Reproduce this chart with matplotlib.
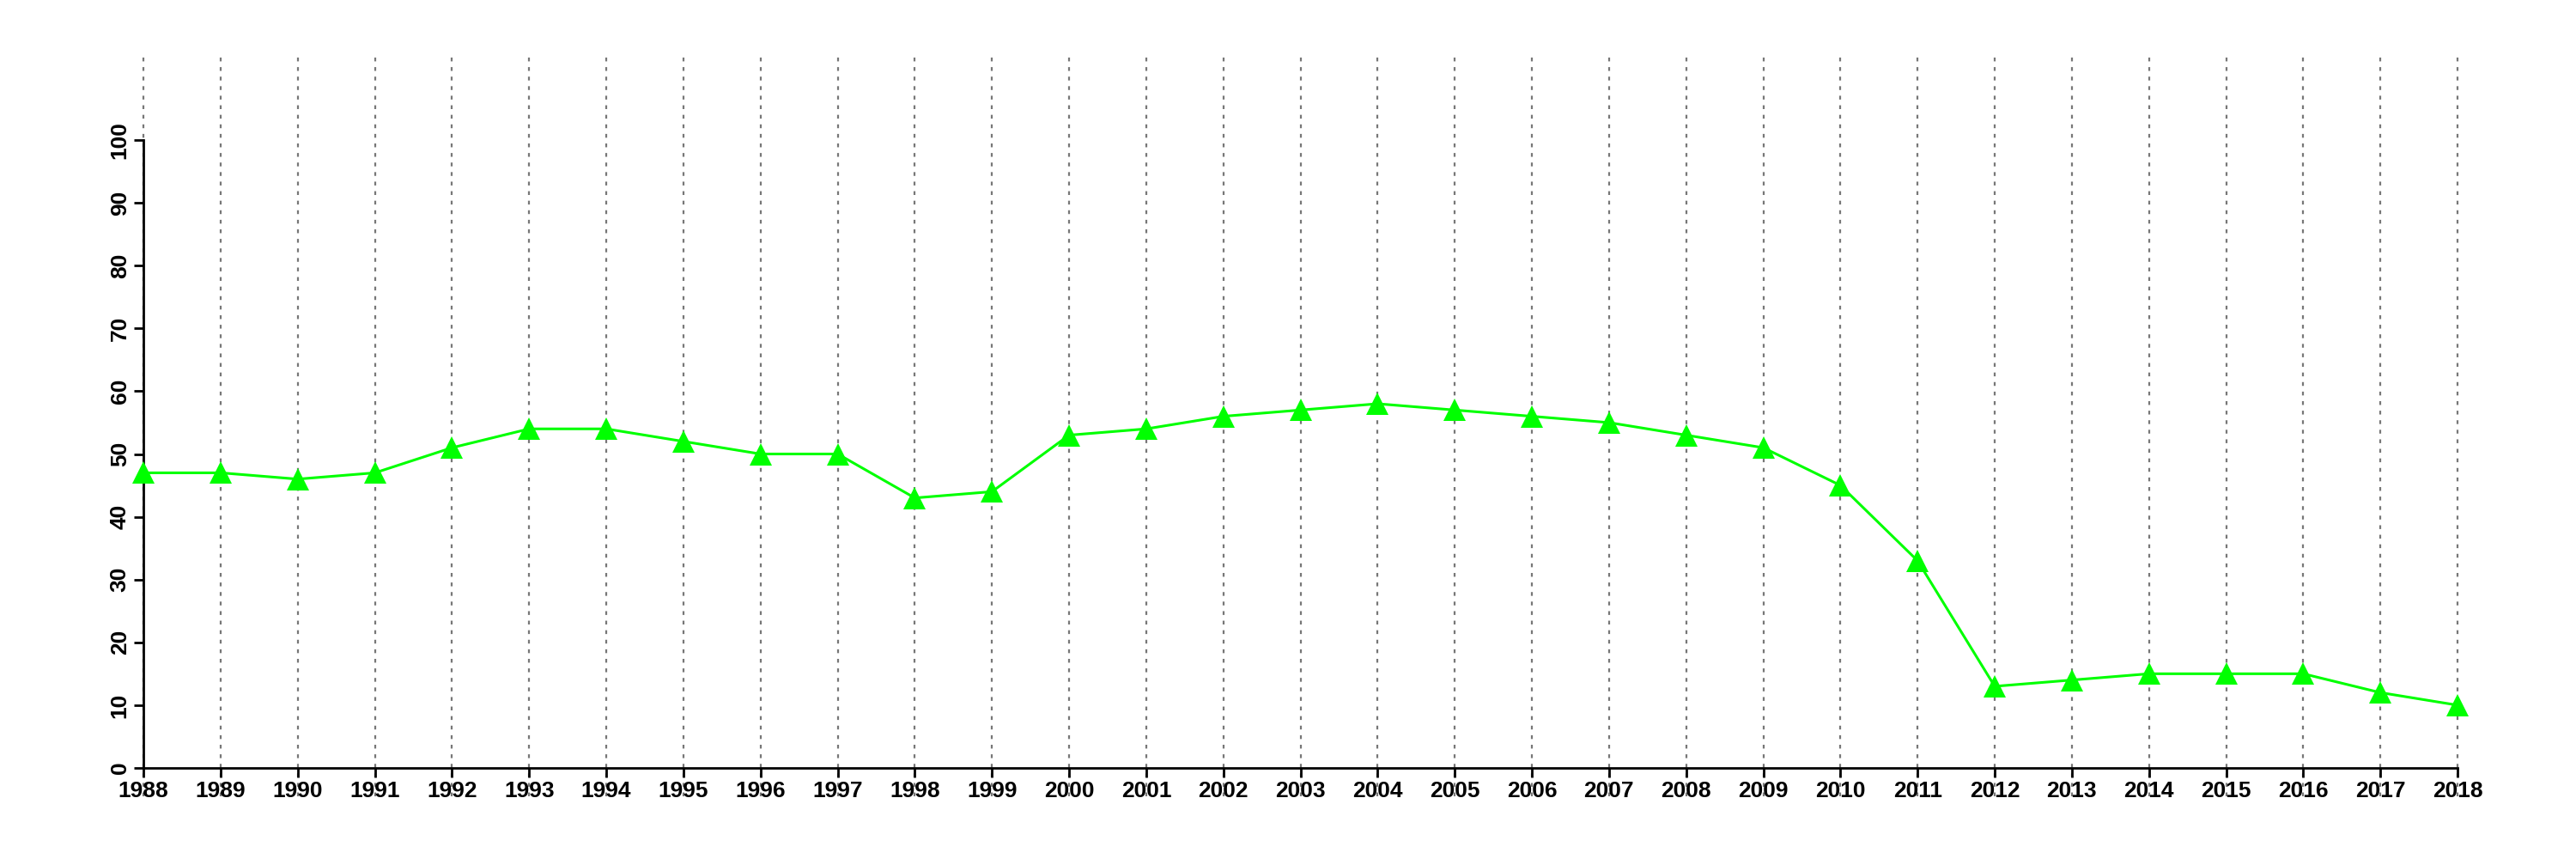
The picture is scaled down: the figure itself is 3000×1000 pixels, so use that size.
import matplotlib
matplotlib.use("Agg")
import matplotlib.pyplot as plt

years = list(range(1988, 2019))
values = [47, 47, 46, 47, 51, 54, 54, 52, 50, 50, 43, 44, 53, 54, 56, 57, 58,
          57, 56, 55, 53, 51, 45, 33, 13, 14, 15, 15, 15, 12, 10]
yticks = list(range(0, 101, 10))

plt.rcParams['font.family'] = ['Liberation Sans', 'DejaVu Sans']
fig = plt.figure(figsize=(30, 10), dpi=100)
ax = fig.add_axes([0.0557, 0.106, 0.8983, 0.731])

for y in years:
    ax.plot([y, y], [-4.5, 114], linestyle=(0, (2, 3)), color='#777777',
            linewidth=1.6, clip_on=False, zorder=1)

ax.plot(years, values, color='#00ff00', linewidth=2.2, marker='^',
        markersize=19, markeredgewidth=0, zorder=3, clip_on=False)

ax.set_xlim(1988, 2018)
ax.set_ylim(0, 100)
ax.set_xticks(years)
ax.set_xticklabels([str(y) for y in years], fontsize=19, fontweight='bold')
ax.set_yticks(yticks)
ax.set_yticklabels([str(v) for v in yticks], fontsize=19, fontweight='bold',
                   rotation=90, va='center')
for s in ['top', 'right']:
    ax.spines[s].set_visible(False)
for s in ['left', 'bottom']:
    ax.spines[s].set_linewidth(2)
ax.tick_params(axis='both', direction='out', length=8, width=2, pad=3)

fig.savefig('out.png', dpi=100)
